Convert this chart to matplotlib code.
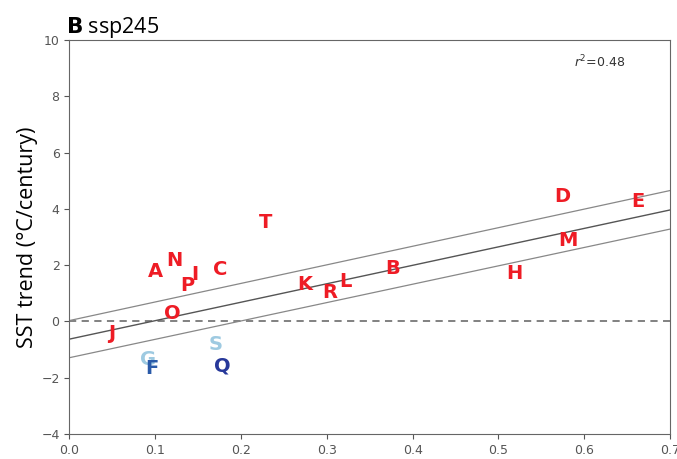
import matplotlib
matplotlib.use("Agg")
import matplotlib.pyplot as plt
import numpy as np

# model labels, warming-pattern index (x) and SST trend (y)
labels = ["A", "N", "I", "P", "C", "T", "O", "J", "G", "F", "S", "Q",
          "K", "R", "L", "B", "H", "M", "D", "E"]
x_vals = [0.100, 0.122, 0.146, 0.137, 0.176, 0.229, 0.120, 0.049, 0.092, 0.096,
          0.170, 0.178, 0.274, 0.303, 0.322, 0.377, 0.519, 0.581, 0.575, 0.663]
y_vals = [1.76, 2.18, 1.65, 1.26, 1.85, 3.50, 0.29, -0.42, -1.37, -1.66,
          -0.81, -1.58, 1.30, 1.02, 1.42, 1.89, 1.71, 2.86, 4.43, 4.26]
colors = ["#ee1c25"] * 8 + ["#9ecae1", "#2a5aa8", "#9ecae1", "#27389a"] + ["#ee1c25"] * 8

# regression line and interval
fit_x = [0.0, 0.7]
fit_mid = [-0.63, 3.96]
fit_upper = [0.03, 4.65]
fit_lower = [-1.29, 3.28]
r_squared = 0.48

fig = plt.figure(figsize=(6.77, 4.59), dpi=100)
ax = fig.add_axes([0.1024, 0.0545, 0.8873, 0.8584])

ax.axhline(0, color="#777777", linestyle="--", linewidth=1.3, dashes=(4, 3))
ax.plot(fit_x, fit_mid, color="#555555", linewidth=1.0)
ax.plot(fit_x, fit_upper, color="#888888", linewidth=0.9)
ax.plot(fit_x, fit_lower, color="#888888", linewidth=0.9)

for lab, xv, yv, c in zip(labels, x_vals, y_vals, colors):
    ax.text(xv, yv, lab, color=c, fontsize=14, fontweight="bold",
            ha="center", va="center", zorder=5)

ax.text(0.618, 9.22, f"$r^2$={r_squared}", fontsize=9, color="#333333",
        ha="center", va="center")

ax.set_xlim(0, 0.7)
ax.set_ylim(-4, 10)
ax.set_xticks(np.arange(0, 0.71, 0.1))
ax.set_yticks(np.arange(-4, 11, 2))
ax.tick_params(colors="#555555", labelsize=9, length=3.5)
for sp in ax.spines.values():
    sp.set_color("#666666")

ax.set_ylabel("SST trend (°C/century)", fontsize=15.5, family="Open Sans",
              labelpad=2)
ax.set_title(r"$\bf{B}$ ssp245", loc="left", fontsize=15.5, family="Open Sans",
             x=-0.005, pad=3)

fig.savefig("out.png", dpi=100)
